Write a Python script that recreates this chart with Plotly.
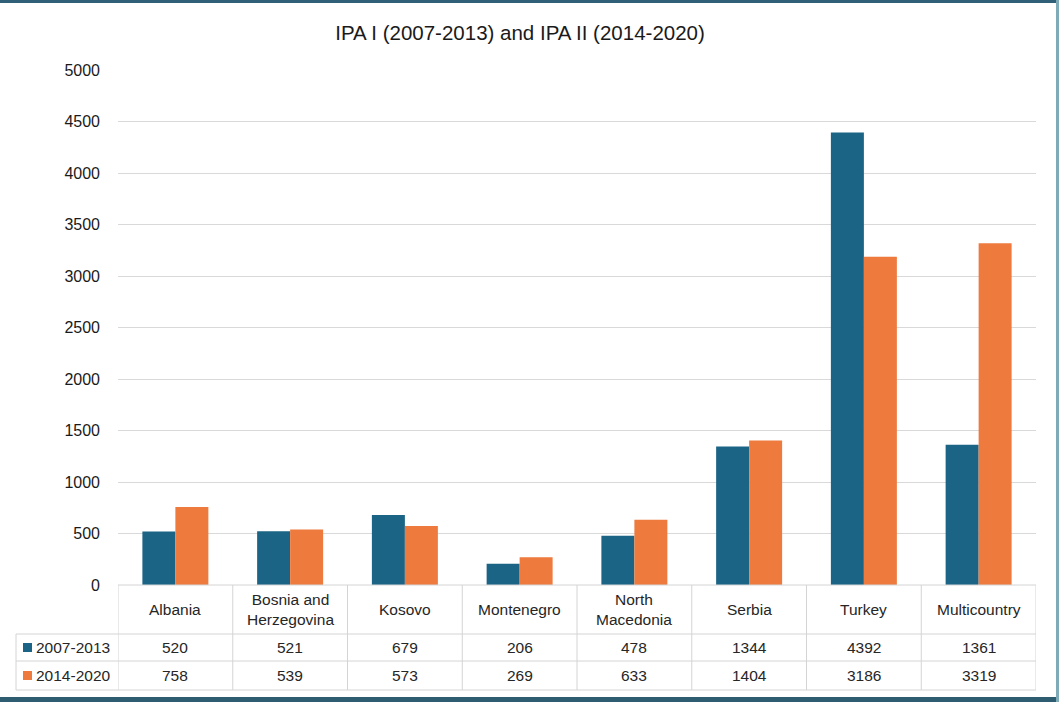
import plotly.graph_objects as go

categories = ["Albania", "Bosnia and<br>Herzegovina", "Kosovo", "Montenegro",
              "North<br>Macedonia", "Serbia", "Turkey", "Multicountry"]
series_names = ["2007-2013", "2014-2020"]
ipa1 = [520, 521, 679, 206, 478, 1344, 4392, 1361]
ipa2 = [758, 539, 573, 269, 633, 1404, 3186, 3319]
tick_vals = [0, 500, 1000, 1500, 2000, 2500, 3000, 3500, 4000, 4500, 5000]
colors = ["#1B6485", "#EE7A3E"]
title = "IPA I (2007-2013) and IPA II (2014-2020)"

W, H = 1059, 702
L, R, T, B = 118, 1036, 70, 585  # plot area in pixels
FONT = "Liberation Sans"
GRID = "#D9D9D9"
TBL = "#D4D4D4"
TXT = "#262626"
FS = 15.5

def px_x(p):
    return (p - L) / (R - L)

def px_y(p):
    return (B - p) / (B - T)

n = len(categories)
xs = list(range(n))

fig = go.Figure()
for name, vals, col in zip(series_names, [ipa1, ipa2], colors):
    fig.add_trace(go.Bar(x=xs, y=vals, name=name, marker_color=col,
                         marker_line_width=0, showlegend=False))

shapes = []
row_top, row_h1, row_h2, row_bot = 585, 634, 661, 690
for yy in [row_h1, row_h2, row_bot]:
    shapes.append(dict(type="line", xref="paper", yref="paper",
                       x0=px_x(16), x1=px_x(R), y0=px_y(yy), y1=px_y(yy),
                       line=dict(color=TBL, width=1)))
shapes.append(dict(type="line", xref="paper", yref="paper",
                   x0=0, x1=1, y0=0, y1=0, line=dict(color=TBL, width=1)))
shapes.append(dict(type="line", xref="paper", yref="paper",
                   x0=px_x(16), x1=px_x(16), y0=px_y(row_h1), y1=px_y(row_bot),
                   line=dict(color=TBL, width=1)))
for i in range(n + 1):
    xv = i - 0.5
    shapes.append(dict(type="line", xref="x", yref="paper",
                       x0=xv, x1=xv, y0=0, y1=px_y(row_bot),
                       line=dict(color=TBL, width=1)))
# outer frame
shapes.append(dict(type="rect", xref="paper", yref="paper",
                   x0=px_x(0), x1=px_x(W), y0=px_y(0), y1=px_y(3),
                   fillcolor="#2F6078", line_width=0, layer="above"))
shapes.append(dict(type="rect", xref="paper", yref="paper",
                   x0=px_x(0), x1=px_x(W), y0=px_y(697), y1=px_y(H),
                   fillcolor="#2E5D72", line_width=0, layer="above"))
shapes.append(dict(type="rect", xref="paper", yref="paper",
                   x0=px_x(1056), x1=px_x(W), y0=px_y(0), y1=px_y(H),
                   fillcolor="#7FAAB7", line_width=0, layer="above"))
row_mid = [(row_h1 + row_h2) / 2, (row_h2 + row_bot) / 2]
for k, yy in enumerate(row_mid):
    shapes.append(dict(type="rect", xref="paper", yref="paper",
                       x0=px_x(23), x1=px_x(32), y0=px_y(yy - 4.5), y1=px_y(yy + 4.5),
                       fillcolor=colors[k], line_width=0))

annotations = []
for i, c in enumerate(categories):
    annotations.append(dict(x=i, y=px_y((row_top + row_h1) / 2), xref="x", yref="paper",
                            text=c, showarrow=False, xanchor="center", yanchor="middle",
                            font=dict(family=FONT, size=FS, color=TXT)))
    for k, vals in enumerate([ipa1, ipa2]):
        annotations.append(dict(x=i, y=px_y(row_mid[k]), xref="x", yref="paper",
                                text=str(vals[i]), showarrow=False,
                                xanchor="center", yanchor="middle",
                                font=dict(family=FONT, size=FS, color=TXT)))
for k, nm in enumerate(series_names):
    annotations.append(dict(x=px_x(34), y=px_y(row_mid[k]), xref="paper", yref="paper",
                            text=nm, showarrow=False, xanchor="left", yanchor="middle",
                            font=dict(family=FONT, size=FS, color=TXT)))

fig.update_layout(
    width=W, height=H,
    margin=dict(l=L, r=W - R, t=T, b=H - B, pad=0),
    paper_bgcolor="white", plot_bgcolor="white",
    title=dict(text=title, x=520 / W, xanchor="center", y=1 - 33 / H, yanchor="middle",
               font=dict(family=FONT, size=20.5, color="#1a1a1a")),
    barmode="group", bargap=0.425, bargroupgap=0,
    xaxis=dict(range=[-0.5, n - 0.5], showticklabels=False, showgrid=False,
               zeroline=False, showline=False, ticks=""),
    yaxis=dict(range=[0, 5000], tickvals=tick_vals, showgrid=True, gridcolor=GRID,
               gridwidth=1, zeroline=False, showline=False, ticks="",
               ticklabelstandoff=17,
               tickfont=dict(family=FONT, size=16, color="#1a1a1a")),
    shapes=shapes, annotations=annotations,
)

fig.write_html("out.html", config={"displayModeBar": False},
               post_script="document.body.style.margin='0px';document.body.style.overflow='hidden';")
